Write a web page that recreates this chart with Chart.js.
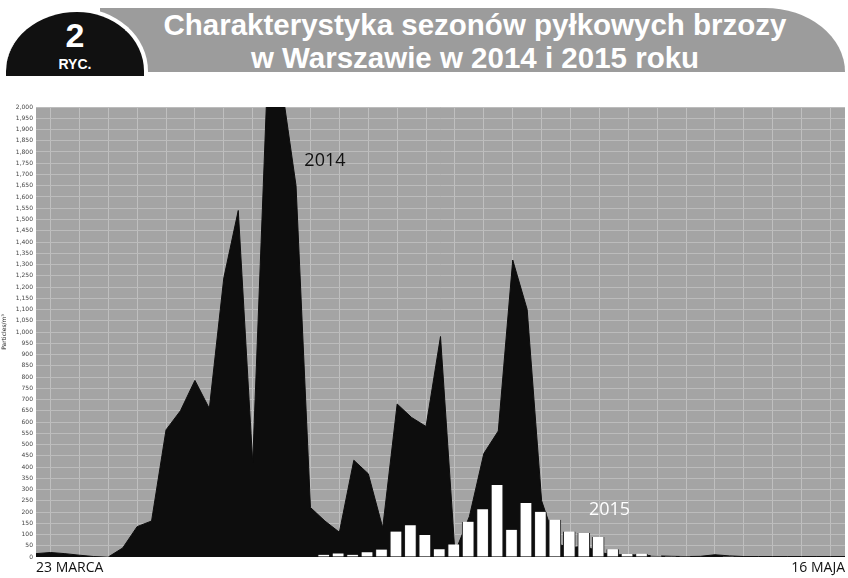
<!DOCTYPE html>
<html><head><meta charset="utf-8">
<script src="https://cdn.jsdelivr.net/npm/chart.js@4"></script>
<style>
html,body{margin:0;padding:0;background:#fff;width:848px;height:578px;overflow:hidden;font-family:"Liberation Sans",Arial,sans-serif}
#banner{position:absolute;left:100px;top:8px;width:745px;height:64px;background:#9c9c9c;border-top-right-radius:80px 64px}
#badge{position:absolute;left:6px;top:8px;width:138px;height:64px;background:#111;border:4px solid #fff;border-bottom:none;border-left:none;border-radius:72px 72px 0 0/64px 64px 0 0;color:#fff;text-align:center}
#badge .n{position:absolute;left:0;right:0;top:6px;font-size:34px;font-weight:bold;line-height:34px}
#badge .r{position:absolute;left:0;right:0;top:44px;font-size:14px;font-weight:bold;line-height:16px}
#title{position:absolute;left:130px;width:690px;top:8px;color:#fff;font-weight:bold;font-size:29.5px;line-height:33px;text-align:center}
#wrap{position:absolute;left:0;top:100px;width:848px;height:478px}
</style></head><body>
<div id="banner"></div>
<div id="badge"><div class="n">2</div><div class="r">RYC.</div></div>
<div id="title">Charakterystyka sezonów pyłkowych brzozy<br>w Warszawie w 2014 i 2015 roku</div>
<div id="wrap"><canvas id="c" width="848" height="478"></canvas></div>
<script>
const days = Array.from({length:56},(_,i)=>'d'+i);
const days2014 = Array.from({length:57},(_,i)=>'k'+i);
const edgeLabels = ['23 MARCA','16 MAJA'];
const values2014 = [15,20,15,8,2,0,40,135,160,565,650,785,660,1240,1540,420,2100,2100,1650,220,160,110,430,370,130,680,620,580,980,20,180,460,560,1320,1100,250,60,40,50,20,10,10,8,5,3,2,3,10,5,2,2,2,2,2,2,2,2];
const values2015 = [0,0,0,0,0,0,0,0,0,0,0,0,0,0,0,0,0,0,0,10,16,10,21,33,113,141,98,34,56,157,212,320,121,240,201,166,113,107,89,34,13,15,7,3,3,2,2,1,0,0,0,0,0,0,0,0];
const seriesNames = ['2014','2015'];

const bg = {id:'bg',beforeDraw(c){const a=c.chartArea,x=c.ctx;x.save();x.fillStyle='#a4a4a4';x.fillRect(a.left,a.top,a.width,a.height);x.restore();}};
const lbl = {id:'lbl',afterDatasetsDraw(c){const x=c.ctx,sx=c.scales.x2,sy=c.scales.y;x.save();x.font='18px "Open Sans"';x.textAlign='center';x.textBaseline='middle';
 x.fillStyle='#111';x.fillText(seriesNames[0],sx.getPixelForValue(20),sy.getPixelForValue(1760));
 x.fillStyle='#fff';x.fillText(seriesNames[1],sx.getPixelForValue(39.7),sy.getPixelForValue(210));x.restore();}};

new Chart(document.getElementById('c'),{
 data:{labels:days,datasets:[
  {type:'line',label:seriesNames[0],data:values2014,xAxisID:'x2',fill:'origin',backgroundColor:'#0d0d0d',borderColor:'#0d0d0d',borderWidth:1,pointRadius:0,tension:0,order:2},
  {type:'bar',label:seriesNames[1],data:values2015,xAxisID:'x',backgroundColor:'#ffffff',borderColor:'#222',borderWidth:{top:0,left:1,right:1,bottom:0},barThickness:12,order:1}
 ]},
 options:{responsive:false,animation:false,events:[],
  layout:{padding:{top:7,right:3,left:0,bottom:0}},
  plugins:{legend:{display:false},tooltip:{enabled:false}},
  scales:{
   x:{type:'category',display:false,offset:true},
   x2:{type:'category',labels:days2014,position:'bottom',offset:false,border:{display:true,color:'#fff',width:2},
     grid:{drawTicks:false,color:c=>c.index%2===1?'#bfbfbf':'rgba(0,0,0,0)'},
     ticks:{autoSkip:false,maxRotation:0,align:'inner',padding:3,color:'#111',font:{family:'Open Sans',size:14},
       callback:(v,i)=>i===0?edgeLabels[0]:(i===days2014.length-1?edgeLabels[1]:'')},
     afterFit:s=>{s.height=21;}},
   y:{min:0,max:2000,border:{display:false},
     grid:{color:'#bcbcbc',drawTicks:false},
     ticks:{stepSize:50,autoSkip:false,padding:3,color:'#444',font:{family:'DejaVu Sans',size:6},callback:v=>v.toLocaleString('en-US')},
     title:{display:true,text:'Particles/m³',color:'#222',font:{family:'DejaVu Sans',size:6},padding:1},
     afterFit:s=>{s.width=36;}}
  }},
 plugins:[bg,lbl]
});
</script></body></html>
